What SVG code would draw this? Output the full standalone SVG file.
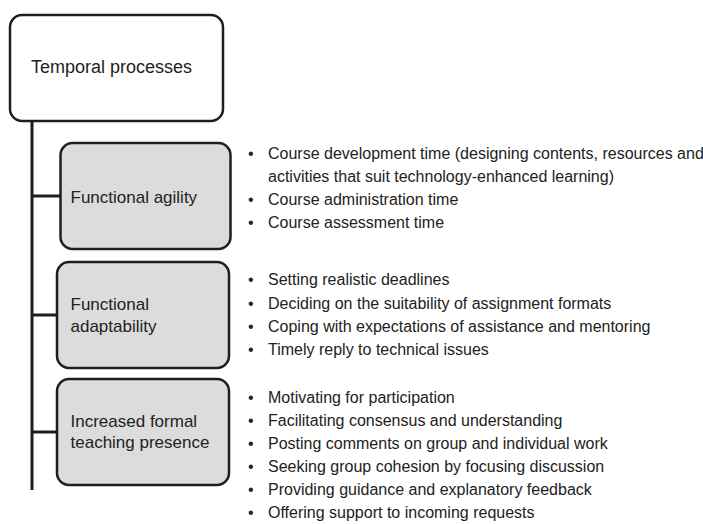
<svg xmlns="http://www.w3.org/2000/svg" width="703" height="524" viewBox="0 0 703 524">
<style>
  .box { stroke: #1e1e1e; stroke-width: 2.5; }
  .root { fill: #ffffff; }
  .sub { fill: #dcdcdc; }
  .lbl { font-family: "Liberation Sans", Arial, sans-serif; fill: #222222; }
  .t18 { font-size: 18px; }
  .t17 { font-size: 17px; }
  .item { font-family: "Liberation Sans", Arial, sans-serif; font-size: 16px; fill: #222222; }
  .conn { stroke: #1e1e1e; stroke-width: 3; fill: none; }
</style>
<rect width="703" height="524" fill="#ffffff"/>
<g id="connectors">
  <line class="conn" x1="32" y1="121" x2="32" y2="490"/>
  <line class="conn" x1="32" y1="196" x2="60" y2="196"/>
  <line class="conn" x1="32" y1="315" x2="57" y2="315"/>
  <line class="conn" x1="32" y1="432" x2="57" y2="432"/>
</g>
<g id="temporal-processes">
  <rect class="box root" x="10" y="15" width="213" height="106" rx="12"/>
  <text class="lbl t18" x="31" y="73">Temporal processes</text>
</g>
<g id="functional-agility">
  <rect class="box sub" x="60.5" y="143" width="170" height="106" rx="12"/>
  <text class="lbl t17" x="70.5" y="203">Functional agility</text>
</g>
<g id="functional-adaptability">
  <rect class="box sub" x="57" y="262" width="172" height="106" rx="12"/>
  <text class="lbl t17" x="70.5" y="310">Functional</text>
  <text class="lbl t17" x="70.5" y="331.5">adaptability</text>
</g>
<g id="teaching-presence">
  <rect class="box sub" x="57" y="379" width="172" height="106" rx="12"/>
  <text class="lbl t17" x="70.5" y="427">Increased formal</text>
  <text class="lbl t17" x="70.5" y="448">teaching presence</text>
</g>
<g id="agility-items">
  <text class="item" x="248" y="159">•</text><text class="item" x="268" y="159">Course development time (designing contents, resources and</text>
  <text class="item" x="268" y="182">activities that suit technology-enhanced learning)</text>
  <text class="item" x="248" y="205">•</text><text class="item" x="268" y="205">Course administration time</text>
  <text class="item" x="248" y="228">•</text><text class="item" x="268" y="228">Course assessment time</text>
</g>
<g id="adaptability-items">
  <text class="item" x="248" y="285">•</text><text class="item" x="268" y="285">Setting realistic deadlines</text>
  <text class="item" x="248" y="308.5">•</text><text class="item" x="268" y="308.5">Deciding on the suitability of assignment formats</text>
  <text class="item" x="248" y="331.5">•</text><text class="item" x="268" y="331.5">Coping with expectations of assistance and mentoring</text>
  <text class="item" x="248" y="355">•</text><text class="item" x="268" y="355">Timely reply to technical issues</text>
</g>
<g id="presence-items">
  <text class="item" x="248" y="403">•</text><text class="item" x="268" y="403">Motivating for participation</text>
  <text class="item" x="248" y="426">•</text><text class="item" x="268" y="426">Facilitating consensus and understanding</text>
  <text class="item" x="248" y="449">•</text><text class="item" x="268" y="449">Posting comments on group and individual work</text>
  <text class="item" x="248" y="472">•</text><text class="item" x="268" y="472">Seeking group cohesion by focusing discussion</text>
  <text class="item" x="248" y="495">•</text><text class="item" x="268" y="495">Providing guidance and explanatory feedback</text>
  <text class="item" x="248" y="518">•</text><text class="item" x="268" y="518">Offering support to incoming requests</text>
</g>
</svg>
